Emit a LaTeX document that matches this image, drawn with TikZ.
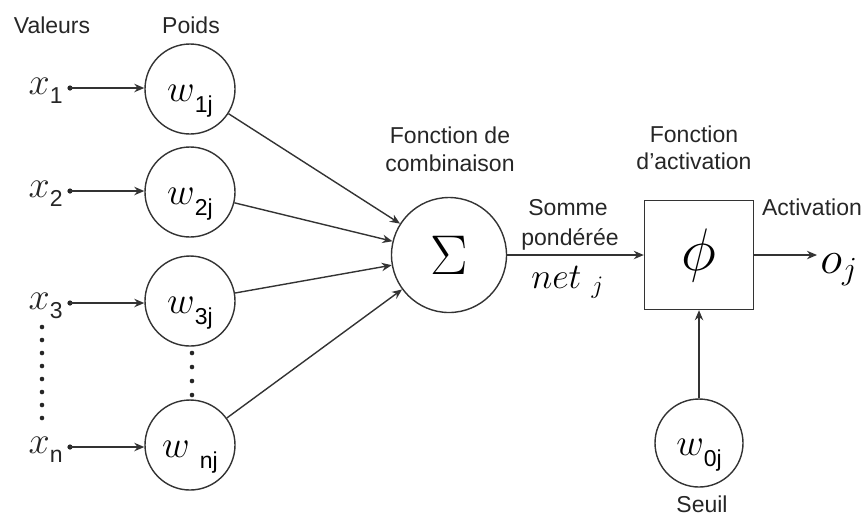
\documentclass[tikz,border=0pt]{standalone}
\usepackage{fix-cm}
\usepackage{fontspec}
\setmainfont{Liberation Sans}
\usetikzlibrary{arrows.meta}

\newcommand{\bigmath}[2][19]{{\fontsize{#1}{22}\selectfont$#2$}}
\newcommand{\lowsub}[2][4.5pt]{\raisebox{-#1}{\fontsize{11.5}{13}\selectfont #2}}
\newcommand{\wlab}[2][0pt]{\smash{\raisebox{-6pt}{\bigmath{w}\hspace{#1}\lowsub[5.5pt]{#2}}}}
\newcommand{\xlab}[1]{\bigmath{x}\lowsub{#1}}

\begin{document}
\begin{tikzpicture}[x=0.5pt,y=-0.5pt,
	weight/.style={circle, draw=black!80, line width=0.7pt, minimum size=45pt, inner sep=0pt},
	sumnode/.style={circle, draw=black!80, line width=0.7pt, minimum size=57.5pt, inner sep=0pt},
	actbox/.style={rectangle, draw=black!80, line width=0.7pt, minimum size=54.5pt, inner sep=0pt},
	link/.style={draw=black!80, line width=0.7pt, -{Stealth[length=5pt,width=4.2pt,inset=1.6pt]}},
	lbl/.style={font=\fontsize{11.5}{13}\selectfont, text=black!85, inner sep=0pt, anchor=base},
	xname/.style={text=black!85, inner sep=0pt, anchor=base east}]
	\useasboundingbox (0,0) rectangle (866,516);

	% entrees et poids
	\node[lbl] (valeurs) at (52,33) {Valeurs};
	\node[lbl] (poids) at (191,33) {Poids};

	\node[weight] (w1) at (190,89) {\wlab{1j}};
	\node[weight] (w2) at (190,192) {\wlab{2j}};
	\node[weight] (w3) at (190,301) {\wlab{3j}};
	\node[weight] (wn) at (190,445) {\wlab[5pt]{nj}};

	\coordinate (d1) at (70,88);
	\coordinate (d2) at (70,191);
	\coordinate (d3) at (70,303);
	\coordinate (dn) at (70,447);

	\node[xname] (x1) at (63,94) {\xlab{1}};
	\node[xname] (x2) at (63,197) {\xlab{2}};
	\node[xname] (x3) at (63,309) {\xlab{3}};
	\node[xname] (xn) at (63,453) {\xlab{n}};

	\fill[black!85] (d1) circle (1.3pt);
	\fill[black!85] (d2) circle (1.3pt);
	\fill[black!85] (d3) circle (1.3pt);
	\fill[black!85] (dn) circle (1.3pt);

	\draw[link] (d1) -- (d1 -| w1.west);
	\draw[link] (d2) -- (d2 -| w2.west);
	\draw[link] (d3) -- (d3 -| w3.west);
	\draw[link] (dn) -- (dn -| wn.west);

	% pointilles
	\foreach \yy in {327,340,...,418}
		\fill[black!85] (42,\yy) circle (1.15pt);
	\foreach \yy in {353,367,381,395}
		\fill[black!85] (192,\yy) circle (1.15pt);

	% combinaison
	\node[lbl] (fcomb1) at (450,143) {Fonction de};
	\node[lbl] (fcomb2) at (450,171) {combinaison};
	\node[sumnode] (sigma) at (449,255) {\fontsize{28}{32}\selectfont$\Sigma$};

	\draw[link] (w1) -- (sigma);
	\draw[link] (w2) -- (sigma);
	\draw[link] (w3) -- (sigma);
	\draw[link] (wn) -- (sigma);

	\node[lbl] (somme1) at (568,215) {Somme};
	\node[lbl] (somme2) at (570,245) {pondérée};
	\node[inner sep=0pt, anchor=base west] (net) at (531,288) {\bigmath[18]{net\;_j}};

	% activation
	\node[lbl] (fact1) at (694,142) {Fonction};
	\node[lbl] (fact2) at (694,169) {d’activation};
	\node[actbox] (phi) at (699,255) {\fontsize{30}{34}\selectfont$\phi$};
	\draw[link] (sigma) -- (phi);

	\node[lbl] (activ) at (812,215) {Activation};
	\coordinate (oend) at (817,255);
	\draw[link] (phi) -- (oend);
	\node[inner sep=0pt, anchor=base west] (oj) at (820,273) {\bigmath[23]{o_j}};

	% seuil
	\node[weight, minimum size=44pt] (w0) at (699,443) {\wlab{0j}};
	\draw[link] (w0) -- (phi);
	\node[lbl] (seuil) at (702,512) {Seuil};
\end{tikzpicture}
\end{document}
